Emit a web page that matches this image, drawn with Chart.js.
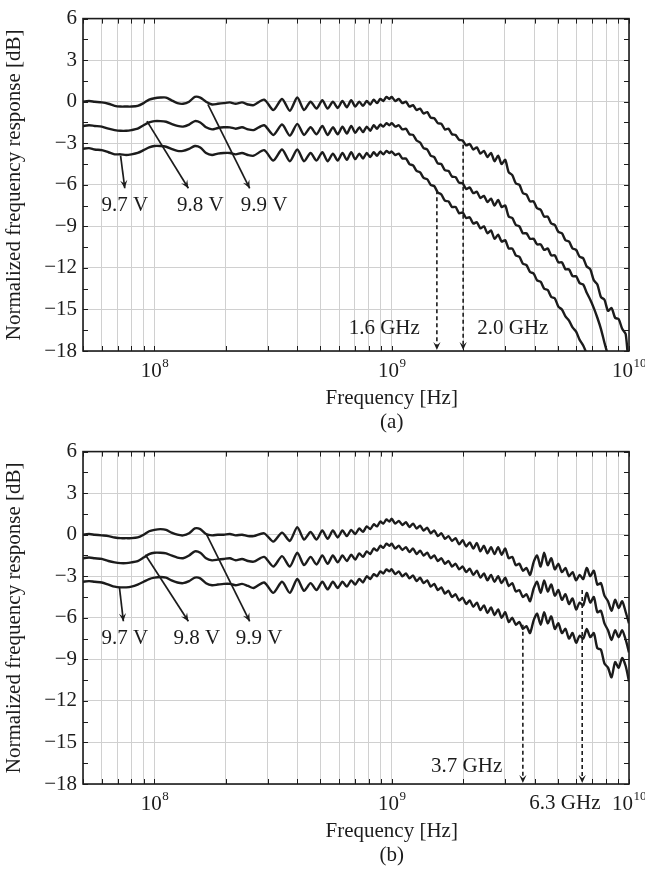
<!DOCTYPE html>
<html>
<head>
<meta charset="utf-8">
<script src="https://cdn.jsdelivr.net/npm/chart.js@4.4.1/dist/chart.umd.min.js"></script>
<style>
  html, body { margin: 0; padding: 0; background: #fff; }
  #wrap { position: relative; width: 645px; height: 869px; overflow: hidden; }
  canvas { position: absolute; left: 0; }
  #chartA { top: 0; }
  #chartB { top: 433px; }
</style>
</head>
<body>
<div id="wrap">
  <canvas id="chartA" width="645" height="433"></canvas>
  <canvas id="chartB" width="645" height="436"></canvas>
</div>
<script>
//-------------------------------------------------------------
// Data
//-------------------------------------------------------------
// frequency grid in MHz, shared by both panels
const freqMHz = [
  50, 53, 56, 60, 64, 68, 72, 76, 80, 85, 90, 95, 100, 106, 112, 118, 125, 132, 140, 148, 156, 165, 175, 185, 196, 208, 220, 234, 248,
  262, 290, 317, 345, 372, 400, 427, 455, 482, 510, 537, 565, 592, 620, 647, 675, 702, 730, 757, 785, 812, 840, 867, 895, 922, 950, 977,
  1000, 1035, 1071, 1109, 1148, 1188, 1230, 1273, 1317, 1363,
  1411, 1460, 1511, 1564, 1619, 1676, 1735, 1795, 1858, 1923,
  1990, 2060, 2132, 2207, 2284, 2364, 2447, 2532, 2621, 2713,
  2808, 2906, 3008, 3113, 3222, 3335, 3451, 3572, 3697, 3827,
  3961, 4099, 4243, 4391, 4545, 4704, 4869, 5039, 5216, 5398,
  5587, 5783, 5985, 6195, 6412, 6636, 6868, 7109, 7357, 7615,
  7881, 8157, 8443, 8738, 9044, 9361, 9689, 10000
];

// panel (a), normalized response in dB
const a99 = [
  0.0, 0.05, 0.0, -0.05, -0.15, -0.3, -0.35, -0.35, -0.35, -0.3, -0.1, 0.15, 0.25, 0.3, 0.3, 0.1, -0.1, -0.15, 0.0, 0.35, 0.3, 0.0, -0.2, -0.15, -0.1, -0.05, -0.15, -0.05, -0.2,
  -0.25, 0.15, -0.6, 0.2, -0.65, 0.3, -0.6, 0.0, -0.5, 0.1, -0.5, 0.0, -0.45, 0.05, -0.4, 0.1, -0.35, 0.0, -0.3, 0.05, -0.2, 0.15, -0.1, 0.2, 0.05, 0.35, 0.2,
  0.35, 0.05, 0.2, -0.1, 0.0, -0.35, -0.25, -0.6, -0.5, -0.85,
  -0.75, -1.15, -1.2, -1.55, -1.6, -2.0, -1.95, -2.35, -2.4, -2.75,
  -2.8, -3.15, -3.05, -3.45, -3.3, -3.75, -3.55, -4.0, -3.7, -4.3,
  -3.9, -4.5, -4.2, -5.1, -5.3, -5.9, -6.0, -6.6, -6.7, -7.2,
  -7.2, -7.7, -7.8, -8.3, -8.3, -8.8, -8.9, -9.4, -9.5, -10.0,
  -10.1, -10.6, -10.7, -11.2, -11.3, -11.9, -12.1, -12.9, -13.2, -14.1,
  -14.3, -15.1, -14.9, -15.6, -15.7, -16.4, -16.8, -19.5
];
const a98 = [
  -1.75, -1.7, -1.75, -1.8, -1.95, -2.05, -2.1, -2.1, -2.05, -1.95, -1.7, -1.5, -1.4, -1.4, -1.45, -1.6, -1.75, -1.8, -1.65, -1.4, -1.5, -1.85, -2.0, -1.9, -1.85, -1.85, -1.95, -1.85, -2.0,
  -2.05, -1.7, -2.4, -1.65, -2.45, -1.6, -2.4, -1.85, -2.35, -1.75, -2.4, -1.85, -2.35, -1.8, -2.3, -1.75, -2.25, -1.85, -2.2, -1.8, -2.1, -1.7, -1.95, -1.65, -1.8, -1.55, -1.7,
  -1.55, -1.8, -1.7, -2.0, -1.95, -2.35, -2.4, -2.8, -2.95, -3.35,
  -3.45, -3.9, -4.0, -4.45, -4.5, -4.95, -5.0, -5.4, -5.45, -5.85,
  -5.9, -6.3, -6.2, -6.6, -6.5, -6.95, -6.8, -7.25, -7.0, -7.5,
  -7.1, -7.6, -7.5, -8.3, -8.4, -8.9, -9.0, -9.5, -9.5, -9.9,
  -9.9, -10.3, -10.3, -10.7, -10.6, -11.1, -11.1, -11.6, -11.6, -12.1,
  -12.1, -12.6, -12.6, -13.1, -13.2, -13.8, -14.3, -14.9, -15.6, -16.4,
  -17.4, -18.3, -19.0, -19.5, -20.0, -20.5, -21.0, -21.5
];
const a97 = [
  -3.4, -3.35, -3.45, -3.5, -3.65, -3.8, -3.8, -3.85, -3.8, -3.7, -3.5, -3.3, -3.2, -3.2, -3.25, -3.4, -3.55, -3.55, -3.4, -3.2, -3.3, -3.7, -3.85, -3.75, -3.7, -3.7, -3.8, -3.7, -3.85,
  -3.9, -3.5, -4.25, -3.45, -4.3, -3.45, -4.3, -3.7, -4.25, -3.65, -4.3, -3.75, -4.25, -3.7, -4.2, -3.65, -4.15, -3.75, -4.1, -3.7, -4.0, -3.65, -3.9, -3.6, -3.8, -3.55, -3.7,
  -3.6, -3.85, -3.75, -4.1, -4.1, -4.5, -4.6, -5.0, -5.1, -5.5,
  -5.6, -6.0, -6.1, -6.55, -6.7, -7.15, -7.2, -7.6, -7.6, -8.05,
  -8.0, -8.4, -8.35, -8.8, -8.7, -9.15, -9.0, -9.5, -9.3, -9.9,
  -9.6, -10.1, -10.0, -10.6, -10.6, -11.1, -11.2, -11.7, -11.8, -12.3,
  -12.4, -12.9, -13.0, -13.5, -13.6, -14.1, -14.2, -14.8, -15.0, -15.5,
  -15.8, -16.3, -16.6, -17.2, -17.6, -18.2, -18.8, -19.4, -20.0, -20.5,
  -21.0, -21.5, -22.0, -22.5, -23.0, -23.5, -24.0, -24.5
];

// panel (b)
const b99 = [
  0.0, 0.05, 0.0, -0.05, -0.1, -0.2, -0.25, -0.25, -0.25, -0.2, 0.0, 0.25, 0.35, 0.4, 0.35, 0.15, 0.0, -0.05, 0.1, 0.45, 0.4, 0.05, -0.05, 0.0, 0.0, 0.05, -0.05, 0.0, -0.1,
  -0.1, 0.1, -0.5, 0.15, -0.45, 0.55, -0.35, 0.2, -0.35, 0.3, -0.3, 0.3, -0.2, 0.3, -0.1, 0.35, 0.05, 0.45, 0.2, 0.6, 0.4, 0.75, 0.6, 0.95, 0.8, 1.1, 0.95,
  1.15, 0.8, 1.0, 0.7, 0.9, 0.55, 0.8, 0.45, 0.65, 0.3,
  0.5, 0.1, 0.3, -0.1, 0.1, -0.3, -0.1, -0.45, -0.25, -0.7,
  -0.4, -0.85, -0.55, -1.0, -0.6, -1.2, -0.8, -1.35, -0.9, -1.4,
  -0.9, -1.45, -1.0, -1.7, -1.6, -2.2, -2.1, -2.6, -2.4, -2.9,
  -2.0, -1.5, -2.3, -1.3, -2.2, -1.7, -2.5, -2.1, -2.7, -2.4,
  -3.0, -2.7, -3.3, -2.9, -3.2, -2.4, -3.0, -2.6, -3.6, -3.5,
  -4.4, -4.8, -5.5, -4.7, -5.3, -4.8, -5.6, -6.4
];
const b98 = [
  -1.7, -1.65, -1.7, -1.75, -1.9, -2.0, -2.05, -2.05, -2.0, -1.9, -1.65, -1.4, -1.3, -1.3, -1.35, -1.5, -1.65, -1.7, -1.5, -1.2, -1.3, -1.7, -1.85, -1.8, -1.75, -1.7, -1.85, -1.75, -1.9,
  -1.95, -1.6, -2.3, -1.55, -2.3, -1.3, -2.2, -1.6, -2.15, -1.5, -2.1, -1.5, -2.0, -1.5, -1.9, -1.45, -1.8, -1.35, -1.6, -1.2, -1.4, -1.0, -1.15, -0.8, -0.95, -0.65, -0.8,
  -0.65, -1.0, -0.8, -1.1, -0.9, -1.25, -1.0, -1.4, -1.15, -1.5,
  -1.3, -1.7, -1.5, -1.9, -1.7, -2.1, -1.9, -2.3, -2.1, -2.5,
  -2.3, -2.7, -2.45, -2.9, -2.6, -3.1, -2.8, -3.3, -2.9, -3.4,
  -3.0, -3.5, -3.1, -3.7, -3.5, -4.1, -4.0, -4.5, -4.3, -4.8,
  -3.9, -3.4, -4.2, -3.3, -4.1, -3.6, -4.4, -4.0, -4.7, -4.3,
  -5.0, -4.6, -5.4, -4.9, -5.1, -4.2, -4.9, -4.5, -5.6, -5.5,
  -6.4, -6.9, -7.6, -6.9, -7.4, -6.9, -7.6, -8.5
];
const b97 = [
  -3.4, -3.35, -3.4, -3.45, -3.6, -3.75, -3.8, -3.8, -3.75, -3.6, -3.4, -3.2, -3.1, -3.05, -3.1, -3.3, -3.45, -3.5, -3.35, -3.1, -3.15, -3.5, -3.65, -3.6, -3.55, -3.55, -3.65, -3.55, -3.7,
  -3.85, -3.45, -4.2, -3.4, -4.2, -3.2, -4.05, -3.5, -4.0, -3.4, -3.95, -3.4, -3.85, -3.4, -3.75, -3.3, -3.6, -3.2, -3.45, -3.0, -3.2, -2.85, -3.0, -2.65, -2.8, -2.5, -2.65,
  -2.5, -2.85, -2.65, -3.0, -2.8, -3.15, -2.95, -3.35, -3.1, -3.5,
  -3.3, -3.75, -3.55, -4.0, -3.8, -4.25, -4.05, -4.5, -4.3, -4.75,
  -4.55, -5.0, -4.75, -5.2, -4.9, -5.45, -5.1, -5.65, -5.25, -5.8,
  -5.4, -6.0, -5.6, -6.3, -6.0, -6.5, -6.3, -6.8, -6.6, -7.1,
  -6.2, -5.7, -6.5, -5.6, -6.4, -5.9, -6.8, -6.4, -7.1, -6.8,
  -7.5, -7.1, -7.8, -7.3, -7.5, -6.8, -7.4, -7.1, -8.2, -8.3,
  -9.3, -9.6, -10.3, -9.2, -9.6, -8.9, -9.5, -10.6
];

const voltLabels = ["9.7 V", "9.8 V", "9.9 V"];

// axis ticks
const gridFreqs = [
  5e7, 6e7, 7e7, 8e7, 9e7,
  1e8, 2e8, 3e8, 4e8, 5e8, 6e8, 7e8, 8e8, 9e8,
  1e9, 2e9, 3e9, 4e9, 5e9, 6e9, 7e9, 8e9, 9e9, 1e10
];
const decadeFreqs = [1e8, 1e9, 1e10];
const decadeExps = ["8", "9", "10"];
const yMin = -18, yMax = 6, yStep = 3;

// annotations (Hz, dB)
// leader arrows: [fromHz, fromDb, toHz, toDb]
const leadersA = [[7.2e7, -3.9, 7.5e7, -6.25], [9.3e7, -1.4, 1.39e8, -6.25], [1.68e8, -0.2, 2.52e8, -6.25]];
const leadersB = [[7.12e7, -3.8, 7.4e7, -6.25], [9.16e7, -1.45, 1.39e8, -6.25], [1.66e8, 0.0, 2.52e8, -6.25]];
const voltPosA = [[7.5e7, -7.5], [1.56e8, -7.5], [2.9e8, -7.5]];
const voltPosB = [[7.5e7, -7.5], [1.51e8, -7.5], [2.76e8, -7.5]];
// dashed cut-off markers: [Hz, start dB]
const cutoffA = [[1.55e9, -6.4], [2.0e9, -3.1]];
const cutoffB = [[3.57e9, -6.5], [6.35e9, -4.0]];
const cutoffTextA = [["1.6 GHz", 9.3e8, -16.35], ["2.0 GHz", 3.24e9, -16.35]];
const cutoffTextB = [["3.7 GHz", 2.07e9, -16.7], ["6.3 GHz", 5.37e9, -19.4]];

//-------------------------------------------------------------
// Styling
//-------------------------------------------------------------
const FONT = '"Liberation Serif", "DejaVu Serif", serif';
const FS = 21;
const INK = "#1c1c1c";
const GRID = "#d0d0d0";

function arrowHead(ctx, x0, y0, x1, y1) {
  const ang = Math.atan2(y1 - y0, x1 - x0);
  const len = 8, half = 3.6;
  ctx.beginPath();
  ctx.moveTo(x1, y1);
  ctx.lineTo(x1 - len * Math.cos(ang) + half * Math.sin(ang), y1 - len * Math.sin(ang) - half * Math.cos(ang));
  ctx.lineTo(x1 - len * 0.6 * Math.cos(ang), y1 - len * 0.6 * Math.sin(ang));
  ctx.lineTo(x1 - len * Math.cos(ang) - half * Math.sin(ang), y1 - len * Math.sin(ang) + half * Math.cos(ang));
  ctx.closePath();
  ctx.fill();
}

//-------------------------------------------------------------
// Frame, inward ticks, labels and arrows
//-------------------------------------------------------------
const decorations = {
  id: "decorations",
  afterDatasetsDraw(chart, args, opts) {
    const { ctx, chartArea: a, scales: { x, y } } = chart;
    const n = opts.notes;
    ctx.save();

    // inward ticks
    ctx.strokeStyle = INK;
    ctx.lineWidth = 1;
    ctx.beginPath();
    gridFreqs.forEach((f) => {
      const px = Math.round(x.getPixelForValue(f)) + 0.5;
      ctx.moveTo(px, a.bottom); ctx.lineTo(px, a.bottom - 5);
      ctx.moveTo(px, a.top); ctx.lineTo(px, a.top + 5);
    });
    for (let v = yMin; v <= yMax; v += yStep / 2) {
      const py = Math.round(y.getPixelForValue(v)) + 0.5;
      ctx.moveTo(a.left, py); ctx.lineTo(a.left + 5, py);
      ctx.moveTo(a.right, py); ctx.lineTo(a.right - 5, py);
    }
    ctx.stroke();

    // frame
    ctx.lineWidth = 1.6;
    ctx.strokeRect(a.left, a.top, a.right - a.left, a.bottom - a.top);

    // decade labels 10^n
    ctx.fillStyle = INK;
    ctx.textBaseline = "middle";
    ctx.textAlign = "left";
    decadeFreqs.forEach((f, i) => {
      const px = x.getPixelForValue(f);
      ctx.font = `${FS}px ${FONT}`;
      const wb = ctx.measureText("10").width;
      ctx.font = `13px ${FONT}`;
      const ws = ctx.measureText(decadeExps[i]).width;
      const x0 = px - (wb + ws) / 2;
      ctx.font = `${FS}px ${FONT}`;
      ctx.fillText("10", x0, a.bottom + 20);
      ctx.font = `13px ${FONT}`;
      ctx.fillText(decadeExps[i], x0 + wb + 0.5, a.bottom + 13);
    });

    // axis title and panel tag
    ctx.textAlign = "center";
    ctx.font = `${FS}px ${FONT}`;
    const cx = x.getPixelForValue(1e9);
    ctx.fillText("Frequency [Hz]", cx, a.bottom + 47);
    ctx.fillText(n.tag, cx, a.bottom + 71);

    // leader arrows with voltage labels
    ctx.lineWidth = 1.7;
    n.leaders.forEach(([f0, v0, f1, v1], i) => {
      const x0 = x.getPixelForValue(f0), y0 = y.getPixelForValue(v0);
      const x1 = x.getPixelForValue(f1), y1 = y.getPixelForValue(v1);
      ctx.beginPath(); ctx.moveTo(x0, y0); ctx.lineTo(x1, y1); ctx.stroke();
      arrowHead(ctx, x0, y0, x1, y1);
      const [lf, lv] = n.voltPos[i];
      ctx.fillText(voltLabels[i], x.getPixelForValue(lf), y.getPixelForValue(lv));
    });

    // dashed cut-off arrows
    ctx.lineWidth = 1.6;
    n.cutoff.forEach(([f, v]) => {
      const px = x.getPixelForValue(f);
      const y0 = y.getPixelForValue(v), y1 = a.bottom - 1;
      ctx.setLineDash([4, 3]);
      ctx.beginPath(); ctx.moveTo(px, y0); ctx.lineTo(px, y1 - 4); ctx.stroke();
      ctx.setLineDash([]);
      arrowHead(ctx, px, y0, px, y1);
    });
    n.cutoffText.forEach(([t, f, v]) => {
      ctx.fillText(t, x.getPixelForValue(f), y.getPixelForValue(v));
    });

    ctx.restore();
  }
};

//-------------------------------------------------------------
// Build one panel
//-------------------------------------------------------------
function buildPanel(canvasId, series, notes) {
  const canvas = document.getElementById(canvasId);
  const datasets = series.map((vals, i) => ({
    label: voltLabels[i],
    data: freqMHz.map((f, k) => ({ x: f * 1e6, y: vals[k] })),
    borderColor: INK,
    borderWidth: 2.4,
    pointRadius: 0,
    tension: 0.25,
    fill: false
  }));

  return new Chart(canvas, {
    type: "line",
    data: { datasets },
    options: {
      responsive: false,
      animation: false,
      devicePixelRatio: 1,
      layout: { padding: { top: 17, right: 16, left: 0, bottom: 0 } },
      plugins: {
        legend: { display: false },
        tooltip: { enabled: false },
        decorations: { notes }
      },
      scales: {
        x: {
          type: "logarithmic",
          min: 5e7,
          max: 1e10,
          afterBuildTicks: (s) => { s.ticks = gridFreqs.map((v) => ({ value: v })); },
          afterFit: (s) => { s.height = s.chart.height - 17 - 334; },
          ticks: { display: false },
          grid: { color: GRID, lineWidth: 1, drawTicks: false },
          border: { display: false }
        },
        y: {
          min: yMin,
          max: yMax,
          afterFit: (s) => { s.width = 83; },
          ticks: {
            stepSize: yStep,
            padding: 6,
            color: INK,
            font: { family: FONT, size: FS },
            callback: (v) => (v < 0 ? "\u2212" + Math.abs(v) : String(v))
          },
          grid: { color: GRID, lineWidth: 1, drawTicks: false },
          border: { display: false },
          title: {
            display: true,
            text: "Normalized frequency response [dB]",
            color: INK,
            font: { family: FONT, size: FS },
            padding: { top: 2, bottom: 0 }
          }
        }
      }
    },
    plugins: [decorations]
  });
}

buildPanel("chartA", [a97, a98, a99], {
  tag: "(a)", leaders: leadersA, voltPos: voltPosA, cutoff: cutoffA, cutoffText: cutoffTextA
});
buildPanel("chartB", [b97, b98, b99], {
  tag: "(b)", leaders: leadersB, voltPos: voltPosB, cutoff: cutoffB, cutoffText: cutoffTextB
});
</script>
</body>
</html>
